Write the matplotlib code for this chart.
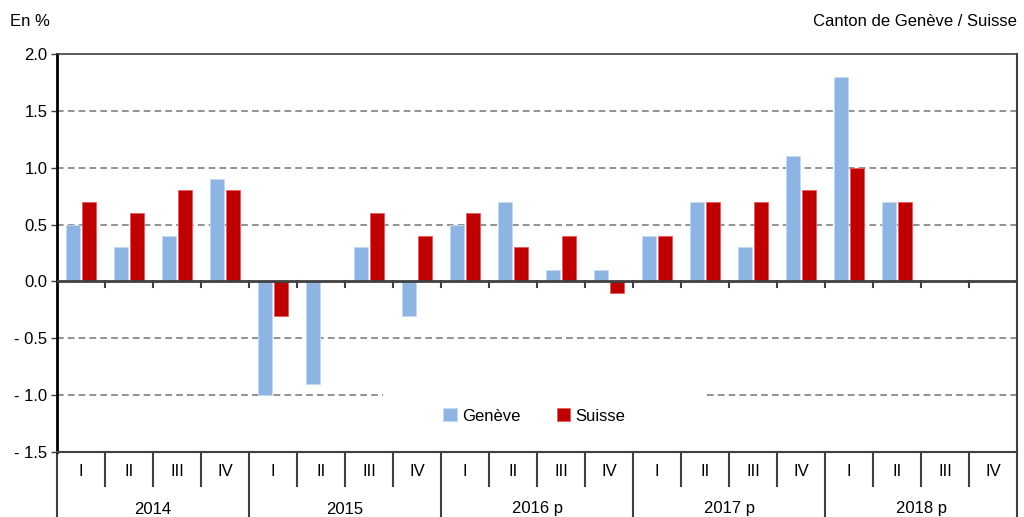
import matplotlib
matplotlib.use("Agg")
import numpy as np
from matplotlib import pyplot as plt
from matplotlib.patches import Rectangle

plt.rcParams['font.family'] = ['Liberation Sans Narrow', 'Liberation Sans', 'DejaVu Sans']

# data
years = ["2014", "2015", "2016 p", "2017 p", "2018 p"]
quarters = ["I", "II", "III", "IV"]
geneve = [0.5, 0.3, 0.4, 0.9,
          -1.0, -0.9, 0.3, -0.3,
          0.5, 0.7, 0.1, 0.1,
          0.4, 0.7, 0.3, 1.1,
          1.8, 0.7, np.nan, np.nan]
suisse = [0.7, 0.6, 0.8, 0.8,
          -0.3, 0.0, 0.6, 0.4,
          0.6, 0.3, 0.4, -0.1,
          0.4, 0.7, 0.7, 0.8,
          1.0, 0.7, np.nan, np.nan]
yticks = [2.0, 1.5, 1.0, 0.5, 0.0, -0.5, -1.0, -1.5]
ytick_labels = ["2.0", "1.5", "1.0", "0.5", "0.0", "- 0.5", "- 1.0", "- 1.5"]

c_gen = "#8DB4E2"
c_sui = "#C00000"
grid_c = "#7f7f7f"
fs = 12

W, H = 1024, 517
fig = plt.figure(figsize=(W / 100, H / 100), dpi=100)
ax = fig.add_axes([57 / W, (H - 452) / H, 960 / W, 398 / H])

n = len(geneve)
x = np.arange(n)
ax.bar(x - 0.167, geneve, width=0.30, color=c_gen, edgecolor="#c6d9f1", linewidth=0.6, zorder=3, label="Genève")
ax.bar(x + 0.167, suisse, width=0.30, color=c_sui, edgecolor="#e06060", linewidth=0.6, zorder=3, label="Suisse")

ax.set_xlim(-0.5, n - 0.5)
ax.set_ylim(-1.5, 2.0)
ax.set_yticks(yticks)
ax.set_yticklabels(ytick_labels, fontsize=fs)
ax.tick_params(axis="y", length=4, width=1, color="#404040", pad=3)
ax.set_xticks([])

# gridlines
for yv in yticks:
    if yv in (2.0, -1.5):
        continue
    if yv == 0.0:
        ax.axhline(0, color="#404040", lw=2, zorder=4)
    else:
        ax.axhline(yv, color=grid_c, lw=1.2, ls=(0, (4, 2.5)), zorder=1)

# small ticks on the zero line
for b in np.arange(0.5, n - 1, 1.0):
    ax.plot([b, b], [0, -0.045], color="#404040", lw=1.5, zorder=4)

# spines
ax.spines["left"].set_color("black")
ax.spines["left"].set_linewidth(2)
ax.spines["right"].set_color("#404040")
ax.spines["right"].set_linewidth(1.5)
ax.spines["top"].set_color("#404040")
ax.spines["top"].set_linewidth(1.2)
ax.spines["bottom"].set_color("#404040")
ax.spines["bottom"].set_linewidth(1.5)

# legend with a white band hiding part of the -1.0 gridline
ax.add_patch(Rectangle(((383 - 57) / 960, -1.09), (705 - 383) / 960, 0.18,
                       transform=ax.get_yaxis_transform(), facecolor="white",
                       edgecolor="none", zorder=2))
leg = ax.legend(loc="center", bbox_to_anchor=(0.497, (452 - 416) / 398), ncol=2,
                frameon=False, fontsize=fs, handlelength=0.8, handleheight=0.8,
                handletextpad=0.3, columnspacing=2.2)

# two-level category axis
tr = ax.get_xaxis_transform()
q_bottom = -34 / 398
fig_bottom = -(70) / 398
for i in range(n):
    ax.text(i, -19 / 398, quarters[i % 4], transform=tr, ha="center", va="center",
            fontsize=fs, clip_on=False)
for b in np.arange(0.5, n - 1, 1.0):
    if (b + 0.5) % 4 == 0:
        ax.plot([b, b], [0, fig_bottom], transform=tr, color="#404040", lw=1.5, clip_on=False)
    else:
        ax.plot([b, b], [0, q_bottom], transform=tr, color="#404040", lw=1.5, clip_on=False)
for edge in (-0.5, n - 0.5):
    ax.plot([edge, edge], [0, fig_bottom], transform=tr, color="#404040", lw=1.5, clip_on=False)
for k, yr in enumerate(years):
    ax.text(4 * k + 1.5, -57 / 398, yr, transform=tr, ha="center", va="center",
            fontsize=fs, clip_on=False)

fig.text(10 / W, 1 - 22 / H, "En %", ha="left", va="center", fontsize=fs)
fig.text(1017 / W, 1 - 22 / H, "Canton de Genève / Suisse", ha="right", va="center", fontsize=fs)

fig.savefig("out.png", dpi=100)
